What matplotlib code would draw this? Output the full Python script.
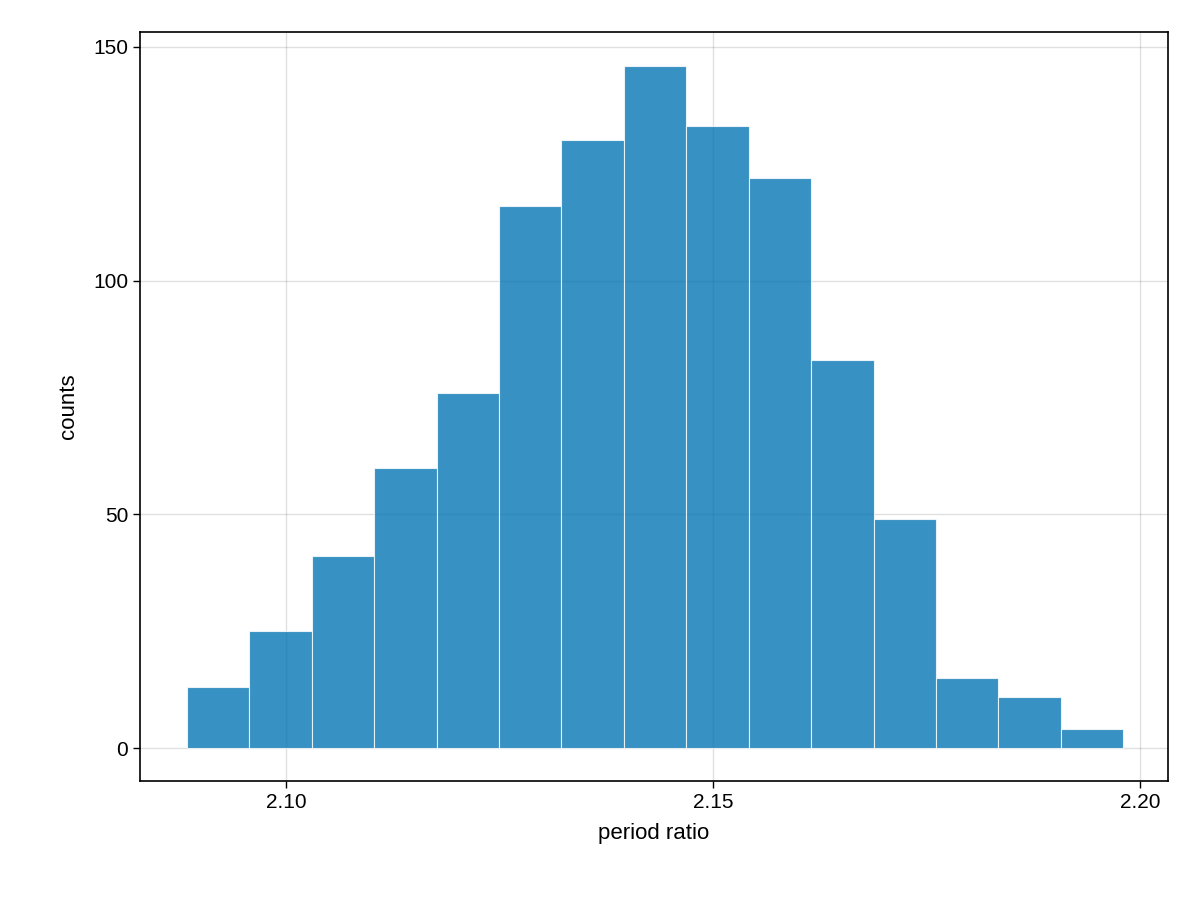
import numpy as np
import matplotlib
matplotlib.use("Agg")
import matplotlib.pyplot as plt

bin_start = 2.0884
bin_width = 0.00731
counts = [13, 25, 41, 60, 76, 116, 130, 146, 133, 122, 83, 49, 15, 11, 4]
xticks = [2.10, 2.15, 2.20]
xticklabels = ["2.10", "2.15", "2.20"]
yticks = [0, 50, 100, 150]

plt.rcParams['font.family'] = ['Liberation Sans', 'DejaVu Sans']
fig = plt.figure(figsize=(12, 9), dpi=100)
ax = fig.add_axes([0.1167, 0.1322, 0.8566, 0.8322])
edges = bin_start + bin_width * np.arange(len(counts) + 1)
ax.bar(edges[:-1], counts, width=bin_width, align='edge', color='#0072b2', alpha=0.78,
       edgecolor=(1, 1, 1, 0.15), linewidth=0.8, zorder=2)
ax.set_xlim(2.0829, 2.2033)
ax.set_ylim(-7.06, 153.2)
ax.set_xticks(xticks)
ax.set_xticklabels(xticklabels)
ax.set_yticks(yticks)
ax.grid(True, color='black', alpha=0.12, linewidth=1, zorder=0)
ax.set_axisbelow(True)
ax.tick_params(labelsize=15, length=5, width=1, color='black')
for s in ax.spines.values():
    s.set_linewidth(1.2)
ax.set_xlabel('period ratio', fontsize=16, labelpad=8)
ax.set_ylabel('counts', fontsize=16, labelpad=10)
fig.savefig('out.png', dpi=100)
